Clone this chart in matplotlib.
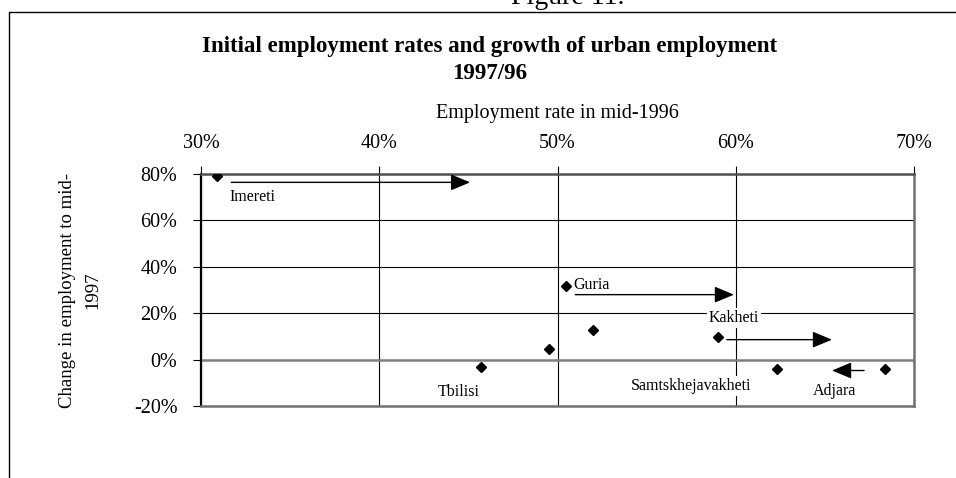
import matplotlib
matplotlib.use("Agg")
import matplotlib.pyplot as plt
from matplotlib.lines import Line2D
from matplotlib.ticker import PercentFormatter

plt.rcParams['font.family'] = ['Liberation Serif', 'DejaVu Serif']
plt.rcParams['axes.unicode_minus'] = False

# employment rate mid-1996 (%), change in employment to mid-1997 (%)
emp_rate = [30.9, 45.7, 49.5, 50.5, 52.0, 59.0, 62.3, 68.4]
emp_change = [79.1, -3.3, 4.7, 31.8, 12.9, 9.6, -3.9, -3.9]

# region labels and where they sit
label_names = ["Imereti", "Tbilisi", "Guria", "Kakheti", "Samtskhejavakheti", "Adjara"]
label_x = [31.6, 43.3, 50.9, 58.5, 54.1, 64.3]
label_y = [70.0, -13.8, 32.0, 18.0, -11.2, -13.4]

# arrows: start, end (employment rate), height
arrow_start = [31.7, 51.0, 59.5, 67.2]
arrow_end = [45.1, 59.9, 65.4, 65.4]
arrow_y = [76.4, 28.0, 8.6, -4.7]

x_ticks = [30, 40, 50, 60, 70]
y_ticks = [-20, 0, 20, 40, 60, 80]

W, H = 956, 478
fig = plt.figure(figsize=(W / 100, H / 100), dpi=100)
ax = fig.add_axes([201 / W, 1 - 406 / H, 713 / W, 232 / H])

ax.set_xlim(30, 70)
ax.set_ylim(-20, 80)
ax.set_xticks(x_ticks)
ax.set_yticks(y_ticks)
ax.xaxis.set_major_formatter(PercentFormatter(xmax=100, decimals=0))
ax.yaxis.set_major_formatter(PercentFormatter(xmax=100, decimals=0))

ax.xaxis.tick_top()
ax.tick_params(axis='x', direction='out', length=6, width=0.8, pad=9, labelsize=14.5)
ax.tick_params(axis='y', direction='out', length=6, width=0.8, pad=11, labelsize=14.5)

ax.grid(True, color='black', lw=0.8, zorder=0)
ax.set_axisbelow(True)
ax.axhline(0, color='#808080', lw=1.8, zorder=1)

ax.spines['left'].set_color('black')
ax.spines['left'].set_linewidth(1.6)
for s in ['top', 'right', 'bottom']:
    ax.spines[s].set_color('#707070')
    ax.spines[s].set_linewidth(1.8)
ax.spines['top'].set_color('#505050')

ax.plot(emp_rate, emp_change, 'D', color='black', ms=5, ls='none', zorder=5)

for x0, x1, yy in zip(arrow_start, arrow_end, arrow_y):
    ax.annotate('', xy=(x1, yy), xytext=(x0, yy),
                arrowprops=dict(arrowstyle='-|>,head_length=1.2,head_width=0.5',
                                color='black', lw=1, shrinkA=0, shrinkB=0,
                                mutation_scale=10), zorder=6)

for name, lx, ly in zip(label_names, label_x, label_y):
    ax.text(lx, ly, name, fontsize=11.5, ha='left', va='center', zorder=4,
            bbox=dict(facecolor='white', edgecolor='none', pad=1.5))

ax.xaxis.set_label_position('top')
ax.set_xlabel('Employment rate in mid-1996', fontsize=14.5, labelpad=12)
ax.set_ylabel('Change in employment to mid-\n1997', fontsize=13.5, va='center',
              linespacing=1.65)
ax.yaxis.set_label_coords(-0.17, 0.5)

fig.text(490 / W, 1 - 60 / H, 'Initial employment rates and growth of urban employment\n1997/96',
         ha='center', va='center', fontsize=16.5, fontweight='bold', linespacing=1.4)

fig.text(568 / W, 1 - 4 / H, 'Figure 11.', ha='center', va='baseline', fontsize=20)

fig.add_artist(Line2D([9 / W, 9 / W, 1], [0, 1 - 11.5 / H, 1 - 11.5 / H],
                      transform=fig.transFigure, color='black', lw=1))

fig.savefig('out.png', dpi=100)
